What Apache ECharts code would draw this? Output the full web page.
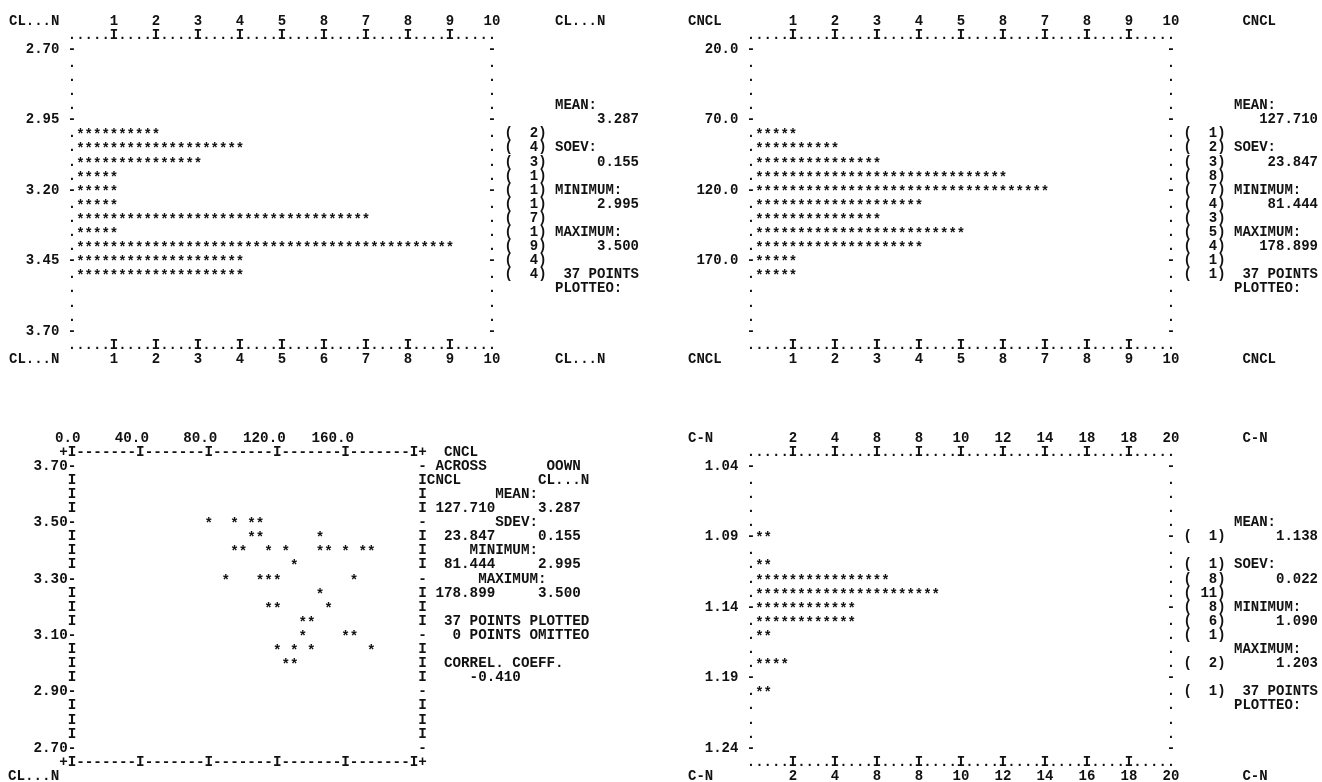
<!DOCTYPE html>
<html>
<head>
<meta charset="utf-8">
<style>
  html, body { margin: 0; padding: 0; background: #fff; }
  #chart { width: 1322px; height: 782px; }
</style>
<script src="https://cdn.jsdelivr.net/npm/echarts@6/dist/echarts.min.js"></script>
</head>
<body>
<div id="chart"></div>
<script>
// 直方圖 1：CL...N
const clnBins = ['2.70', '2.75', '2.80', '2.85', '2.90', '2.95', '3.00', '3.05', '3.10', '3.15', '3.20',
  '3.25', '3.30', '3.35', '3.40', '3.45', '3.50', '3.55', '3.60', '3.65', '3.70'];
const clnCounts = [0, 0, 0, 0, 0, 0, 2, 4, 3, 1, 1, 1, 7, 1, 9, 4, 4, 0, 0, 0, 0];
const clnCountText = ['', '', '', '', '', '', '2', '4', '3', '1', '1', '1', '7', '1', '9', '4', '4', '', '', '', ''];
const clnRowLabels = ['2.70', '2.95', '3.20', '3.45', '3.70'];
const clnTopLabels = ['1', '2', '3', '4', '5', '8', '7', '8', '9', '10'];
const clnBottomLabels = ['1', '2', '3', '4', '5', '6', '7', '8', '9', '10'];

// 直方圖 2：CNCL
const cnclBins = ['20.0', '30.0', '40.0', '50.0', '60.0', '70.0', '80.0', '90.0', '100.0', '110.0', '120.0',
  '130.0', '140.0', '150.0', '160.0', '170.0', '180.0', '190.0', '200.0', '210.0', '220.0'];
const cnclCounts = [0, 0, 0, 0, 0, 0, 1, 2, 3, 6, 7, 4, 3, 5, 4, 1, 1, 0, 0, 0, 0];
const cnclCountText = ['', '', '', '', '', '', '1', '2', '3', '8', '7', '4', '3', '5', '4', '1', '1', '', '', '', ''];
const cnclRowLabels = ['20.0', '70.0', '120.0', '170.0', ''];
const cnclTopLabels = ['1', '2', '3', '4', '5', '8', '7', '8', '9', '10'];
const cnclBottomLabels = ['1', '2', '3', '4', '5', '8', '7', '8', '9', '10'];

// 直方圖 3：C-N
const cnBins = ['1.04', '1.05', '1.06', '1.07', '1.08', '1.09', '1.10', '1.11', '1.12', '1.13', '1.14',
  '1.15', '1.16', '1.17', '1.18', '1.19', '1.20', '1.21', '1.22', '1.23', '1.24'];
const cnCounts = [0, 0, 0, 0, 0, 1, 0, 1, 8, 11, 6, 6, 1, 0, 2, 0, 1, 0, 0, 0, 0];
const cnCountText = ['', '', '', '', '', '1', '', '1', '8', '11', '8', '6', '1', '', '2', '', '1', '', '', '', ''];
const cnRowLabels = ['1.04', '1.09', '1.14', '1.19', '1.24'];
const cnTopLabels = ['2', '4', '8', '8', '10', '12', '14', '18', '18', '20'];
const cnBottomLabels = ['2', '4', '8', '8', '10', '12', '14', '16', '18', '20'];

// 散佈圖：CNCL (橫) 對 CL...N (縱)
const scatterCncl = [80, 95, 105, 110, 105, 110, 145, 95, 100, 115, 125, 145, 150, 160, 170, 175,
  130, 90, 110, 115, 120, 165, 145, 115, 120, 150, 135, 140, 135, 160, 165, 120, 130, 140, 175, 125, 130];
const scatterCln = [3.50, 3.50, 3.50, 3.50, 3.45, 3.45, 3.45, 3.40, 3.40, 3.40, 3.40, 3.40, 3.40, 3.40, 3.40, 3.40,
  3.35, 3.30, 3.30, 3.30, 3.30, 3.30, 3.25, 3.20, 3.20, 3.20, 3.15, 3.15, 3.10, 3.10, 3.10, 3.05, 3.05, 3.05, 3.05, 3.00, 3.00];
const scatterXLabels = ['0.0', '40.0', '80.0', '120.0', '160.0'];
const scatterYLabels = ['3.70', '3.50', '3.30', '3.10', '2.90', '2.70'];

// 右側統計文字
const clnStats = { 4: 'MEAN:', 5: '     3.287', 7: 'SOEV:', 8: '     0.155', 10: 'MINIMUM:', 11: '     2.995',
  13: 'MAXIMUM:', 14: '     3.500', 16: ' 37 POINTS', 17: 'PLOTTEO:' };
const cnclStats = { 4: 'MEAN:', 5: '   127.710', 7: 'SOEV:', 8: '    23.847', 10: 'MINIMUM:', 11: '    81.444',
  13: 'MAXIMUM:', 14: '   178.899', 16: ' 37 POINTS', 17: 'PLOTTEO:' };
const cnStats = { 4: 'MEAN:', 5: '     1.138', 7: 'SOEV:', 8: '     0.022', 10: 'MINIMUM:', 11: '     1.090',
  13: 'MAXIMUM:', 14: '     1.203', 16: ' 37 POINTS', 17: 'PLOTTEO:' };
const scatterStats = {
  0: [[43, 'ACROSS'], [56, 'OOWN']],
  1: [[42, 'CNCL'], [55, 'CL...N']],
  2: [[50, 'MEAN:']],
  3: [[43, '127.710'], [55, '3.287']],
  4: [[50, 'SDEV:']],
  5: [[44, '23.847'], [55, '0.155']],
  6: [[47, 'MINIMUM:']],
  7: [[44, '81.444'], [55, '2.995']],
  8: [[48, 'MAXIMUM:']],
  9: [[43, '178.899'], [55, '3.500']],
  11: [[44, '37 POINTS PLOTTED']],
  12: [[45, '0 POINTS OMITTEO']],
  14: [[44, 'CORREL. COEFF.']],
  15: [[47, '-0.410']]
};

// 版面（行列印字格）
const INK = '#111';
const FONT = 'Liberation Mono';
const ROW_H = 14.1;
const TOP_R0 = 21;
const BOT_R0 = 438;
const STAR_DY = 2;

const option = {
  backgroundColor: '#fff',
  animation: false,
  grid: [], xAxis: [], yAxis: [], series: [], graphic: []
};

const lbl = (size, extra) => Object.assign({
  fontFamily: FONT, fontWeight: 'bold', fontSize: size, color: INK, lineHeight: ROW_H
}, extra);

const bare = { axisLine: { show: false }, axisTick: { show: false }, splitLine: { show: false } };

const star = (p, size) => ({
  type: 'text', x: p[0], y: p[1] + STAR_DY,
  style: { text: '*', fill: INK, font: `bold ${size}px "${FONT}"`, align: 'center', verticalAlign: 'middle' }
});

const addText = (text, x, y, size) => option.graphic.push({
  type: 'text', x: x, y: y,
  style: { text: text, fill: INK, font: `bold ${size}px "${FONT}"`, align: 'left', verticalAlign: 'middle' }
});

function addHist(h) {
  const g = option.grid.length;
  const step = h.xMax / 50; // 每個字元的刻度
  const colOf = (v) => Math.round(v / step);
  option.grid.push({
    left: h.x0, top: h.r0 + 2 * ROW_H, width: 50 * h.cw, height: 20 * ROW_H,
    containLabel: false, outerBoundsMode: 'none'
  });
  const xi = option.xAxis.length;
  // 框線列：每字元一點，每 5 字元一個 I
  ['top', 'bottom'].forEach((pos) => {
    option.xAxis.push(Object.assign({
      gridIndex: g, type: 'value', position: pos, min: 0, max: h.xMax, interval: step,
      axisLabel: lbl(14, {
        margin: ROW_H, verticalAlign: 'middle', align: 'center', showMinLabel: true, showMaxLabel: true,
        formatter: (v) => {
          const c = colOf(v);
          return c > 0 && c < 50 && c % 5 === 0 ? 'I' : '.';
        }
      })
    }, bare));
  });
  // 數字列
  [['top', h.topLabels], ['bottom', h.bottomLabels]].forEach(([pos, labels]) => {
    option.xAxis.push(Object.assign({
      gridIndex: g, type: 'value', position: pos, min: 0, max: h.xMax, interval: h.xMax / 10,
      axisLabel: lbl(14, {
        margin: 2 * ROW_H, verticalAlign: 'middle', align: 'center', showMinLabel: true, showMaxLabel: true,
        formatter: (v) => {
          const k = Math.round(v / (h.xMax / 10));
          return k > 0 ? labels[k - 1] : '';
        }
      })
    }, bare));
  });
  const yi = option.yAxis.length;
  option.yAxis.push(Object.assign({
    gridIndex: g, type: 'category', data: h.bins, inverse: true, boundaryGap: false, position: 'left',
    axisLabel: lbl(14, {
      interval: 0, align: 'right', margin: -h.cw / 2,
      formatter: (v, i) => (i % 5 === 0 ? h.rowLabels[i / 5] + ' -' : '.')
    })
  }, bare));
  option.yAxis.push(Object.assign({
    gridIndex: g, type: 'category', data: h.bins, inverse: true, boundaryGap: false, position: 'right',
    axisLabel: lbl(14, {
      interval: 0, align: 'left', margin: -h.cw / 2,
      formatter: (v, i) => {
        const ct = h.countText[i];
        const mid = ct ? '(' + ct.padStart(3, ' ') + ')' : '     ';
        return (i % 5 === 0 ? '-' : '.') + ' ' + mid + ' ' + (h.stats[i] || '');
      }
    })
  }, bare));
  option.series.push({
    type: 'custom', xAxisIndex: xi, yAxisIndex: yi,
    data: h.counts.map((c, i) => [c, i]),
    renderItem: (params, api) => {
      const n = Math.round(api.value(0) * h.charsPerCount);
      const row = api.value(1);
      const kids = [];
      for (let j = 1; j <= n; j++) kids.push(star(api.coord([j * step, row]), 14));
      return { type: 'group', children: kids };
    }
  });
  const left = (c) => h.x0 + c * h.cw - h.cw / 2;
  [0, 24].forEach((r) => {
    addText(h.name, left(-7), h.r0 + r * ROW_H, 14);
    addText(h.name, left(h.nameCol), h.r0 + r * ROW_H, 14);
  });
}

addHist({ x0: 72, cw: 8.4, r0: TOP_R0, xMax: 10, charsPerCount: 5, name: 'CL...N', nameCol: 58,
  bins: clnBins, counts: clnCounts, countText: clnCountText, rowLabels: clnRowLabels,
  topLabels: clnTopLabels, bottomLabels: clnBottomLabels, stats: clnStats });
addHist({ x0: 751, cw: 8.4, r0: TOP_R0, xMax: 10, charsPerCount: 5, name: 'CNCL', nameCol: 59,
  bins: cnclBins, counts: cnclCounts, countText: cnclCountText, rowLabels: cnclRowLabels,
  topLabels: cnclTopLabels, bottomLabels: cnclBottomLabels, stats: cnclStats });
addHist({ x0: 751, cw: 8.4, r0: BOT_R0, xMax: 20, charsPerCount: 2, name: 'C-N', nameCol: 59,
  bins: cnBins, counts: cnCounts, countText: cnCountText, rowLabels: cnRowLabels,
  topLabels: cnTopLabels, bottomLabels: cnBottomLabels, stats: cnStats });

// 散佈圖
(function addScatter() {
  const x0 = 72, cw = 8.55, fs = 14.25, r0 = BOT_R0;
  const g = option.grid.length;
  option.grid.push({
    left: x0 - cw, top: r0 + 2 * ROW_H, width: 42 * cw, height: 20 * ROW_H,
    containLabel: false, outerBoundsMode: 'none'
  });
  const frameX = (v) => (v === -5 || v === 205 ? '+' : (v % 40 === 0 ? 'I' : '-'));
  const xi = option.xAxis.length;
  ['top', 'bottom'].forEach((pos) => {
    option.xAxis.push(Object.assign({
      gridIndex: g, type: 'value', position: pos, min: -5, max: 205, interval: 5,
      axisLabel: lbl(fs, {
        margin: ROW_H, verticalAlign: 'middle', align: 'center',
        showMinLabel: true, showMaxLabel: true, formatter: frameX
      })
    }, bare));
  });
  option.xAxis.push(Object.assign({
    gridIndex: g, type: 'value', position: 'top', min: -5, max: 205, interval: 5,
    axisLabel: lbl(fs, {
      margin: 2 * ROW_H, verticalAlign: 'middle', align: 'right',
      formatter: (v) => {
        const k = (v - 5) / 40;
        return Number.isInteger(k) && k >= 0 && k < scatterXLabels.length ? scatterXLabels[k] : '';
      }
    })
  }, bare));
  const rowOf = (v) => Math.round((3.70 - v) / 0.05);
  const yi = option.yAxis.length;
  option.yAxis.push(Object.assign({
    gridIndex: g, type: 'value', position: 'left', min: 2.70, max: 3.70, interval: 0.05,
    axisLabel: lbl(fs, {
      align: 'right', margin: -(cw + cw / 2), showMinLabel: true, showMaxLabel: true,
      formatter: (v) => {
        const r = rowOf(v);
        return r % 4 === 0 ? scatterYLabels[r / 4] + '-' : 'I';
      }
    })
  }, bare));
  option.yAxis.push(Object.assign({
    gridIndex: g, type: 'value', position: 'right', min: 2.70, max: 3.70, interval: 0.05,
    axisLabel: lbl(fs, {
      align: 'left', margin: -cw / 2, showMinLabel: true, showMaxLabel: true,
      formatter: (v) => {
        const r = rowOf(v);
        let s = r % 4 === 0 ? '-' : 'I';
        (scatterStats[r] || []).forEach(([c, t]) => { s = s.padEnd(c - 41, ' ') + t; });
        return s;
      }
    })
  }, bare));
  option.series.push({
    type: 'custom', xAxisIndex: xi, yAxisIndex: yi,
    data: scatterCncl.map((v, i) => [v, scatterCln[i]]),
    renderItem: (params, api) => star(api.coord([api.value(0), api.value(1)]), fs)
  });
  const left = (c) => x0 + c * cw - cw / 2;
  addText('CNCL', left(44), r0 + ROW_H, fs);
  addText('CL...N', left(-7), r0 + 24 * ROW_H, fs);
})();

const chart = echarts.init(document.getElementById('chart'));
chart.setOption(option);
</script>
</body>
</html>
